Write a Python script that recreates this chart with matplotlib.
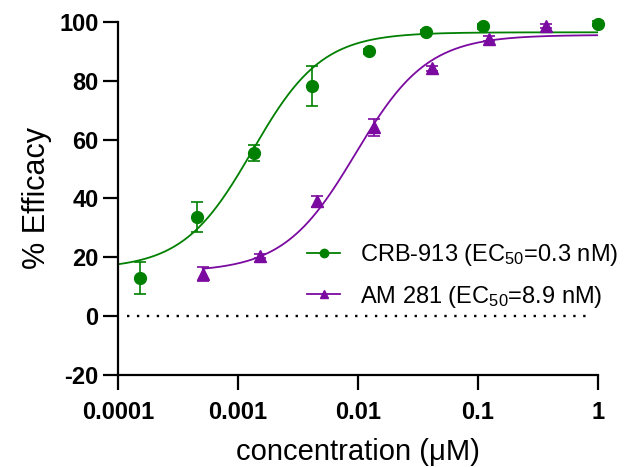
import numpy as np
import matplotlib
matplotlib.use("Agg")
import matplotlib.pyplot as plt

plt.rcParams['font.family'] = ['Liberation Sans', 'DejaVu Sans']
plt.rcParams['mathtext.fontset'] = 'custom'
plt.rcParams['mathtext.rm'] = 'Liberation Sans'
plt.rcParams['mathtext.default'] = 'regular'
plt.rcParams['axes.unicode_minus'] = False

# ---- data ----
crb_conc = [0.000152, 0.000457, 0.00137, 0.00412, 0.0123, 0.037, 0.111, 1.0]
crb_eff = [13.0, 33.7, 55.5, 78.3, 90.0, 96.6, 98.5, 99.4]
crb_err = [5.5, 5.0, 2.6, 6.7, 0.8, 0.8, 0.8, 0.8]

am_conc = [0.000508, 0.00152, 0.00455, 0.0137, 0.041, 0.123, 0.37]
am_eff = [14.3, 20.5, 39.0, 64.2, 84.2, 94.3, 98.6]
am_err = [2.5, 0.8, 2.0, 2.9, 0.8, 0.8, 0.8]

# 4-parameter logistic fit parameters (bottom, top, logEC50, hill)
crb_fit = (16.0, 96.5, -2.88, 1.5)
am_fit = (15.0, 95.6, -2.02, 1.45)

crb_label = 'CRB-913 (EC$_{50}$=0.3 nM)'
am_label = 'AM 281 (EC$_{50}$=8.9 nM)'

yticks = [-20, 0, 20, 40, 60, 80, 100]
xticks = [0.0001, 0.001, 0.01, 0.1, 1]
xticklabels = ['0.0001', '0.001', '0.01', '0.1', '1']

green = '#008000'
purple = '#7b0aa0'


def four_pl(x, p):
    b, t, l, h = p
    return b + (t - b) / (1 + 10 ** ((l - np.log10(x)) * h))


fig = plt.figure(figsize=(6.28, 4.67), dpi=100)
ax = fig.add_axes([118 / 628, 1 - 375 / 467, 480 / 628, 353 / 467])

# dotted zero line
ax.plot([0.000118, 0.85], [0, 0], color='black', linestyle=(0, (1, 3.2)), lw=1.7)

xg = np.logspace(-4, 0, 300)
ax.plot(xg, four_pl(xg, crb_fit), color=green, lw=1.3, zorder=2)
xa = np.logspace(np.log10(am_conc[0]), 0, 300)
ax.plot(xa, four_pl(xa, am_fit), color=purple, lw=1.3, zorder=2)

for conc, eff, err, m, c in [(crb_conc, crb_eff, crb_err, 'o', green),
                             (am_conc, am_eff, am_err, '^', purple)]:
    eb = ax.errorbar(conc, eff, yerr=err, fmt=m, color=c, ms=8.5,
                     capsize=4, elinewidth=1.2, capthick=1.2, zorder=3)
    for art in eb.lines[0:1] + tuple(eb.lines[1]) + tuple(eb.lines[2]):
        art.set_clip_on(False)

# legend proxies
h1, = ax.plot([], [], '-o', color=green, lw=1.3, ms=6)
h2, = ax.plot([], [], '-^', color=purple, lw=1.3, ms=6)
ax.legend([h1, h2], [crb_label, am_label], loc='upper left',
          bbox_to_anchor=(0.394, 0.376), frameon=False, fontsize=17,
          handlelength=1.4, handletextpad=0.85, labelspacing=0.65,
          borderaxespad=0, borderpad=0)

ax.set_xscale('log')
ax.set_xlim(0.0001, 1)
ax.set_ylim(-20, 100)
ax.set_yticks(yticks)
ax.set_xticks(xticks)
ax.set_xticklabels(xticklabels)
ax.minorticks_off()
ax.tick_params(axis='both', length=11, width=1.6, labelsize=17)
ax.tick_params(axis='x', pad=8)
ax.tick_params(axis='y', pad=3)
for lab in ax.get_xticklabels() + ax.get_yticklabels():
    lab.set_fontweight('bold')

for s in ['top', 'right']:
    ax.spines[s].set_visible(False)
for s in ['left', 'bottom']:
    ax.spines[s].set_linewidth(1.6)

ax.set_ylabel('% Efficacy', fontsize=22, labelpad=5)
ax.set_xlabel('concentration (μM)', fontsize=21, labelpad=10)

fig.savefig('out.png', dpi=100)
